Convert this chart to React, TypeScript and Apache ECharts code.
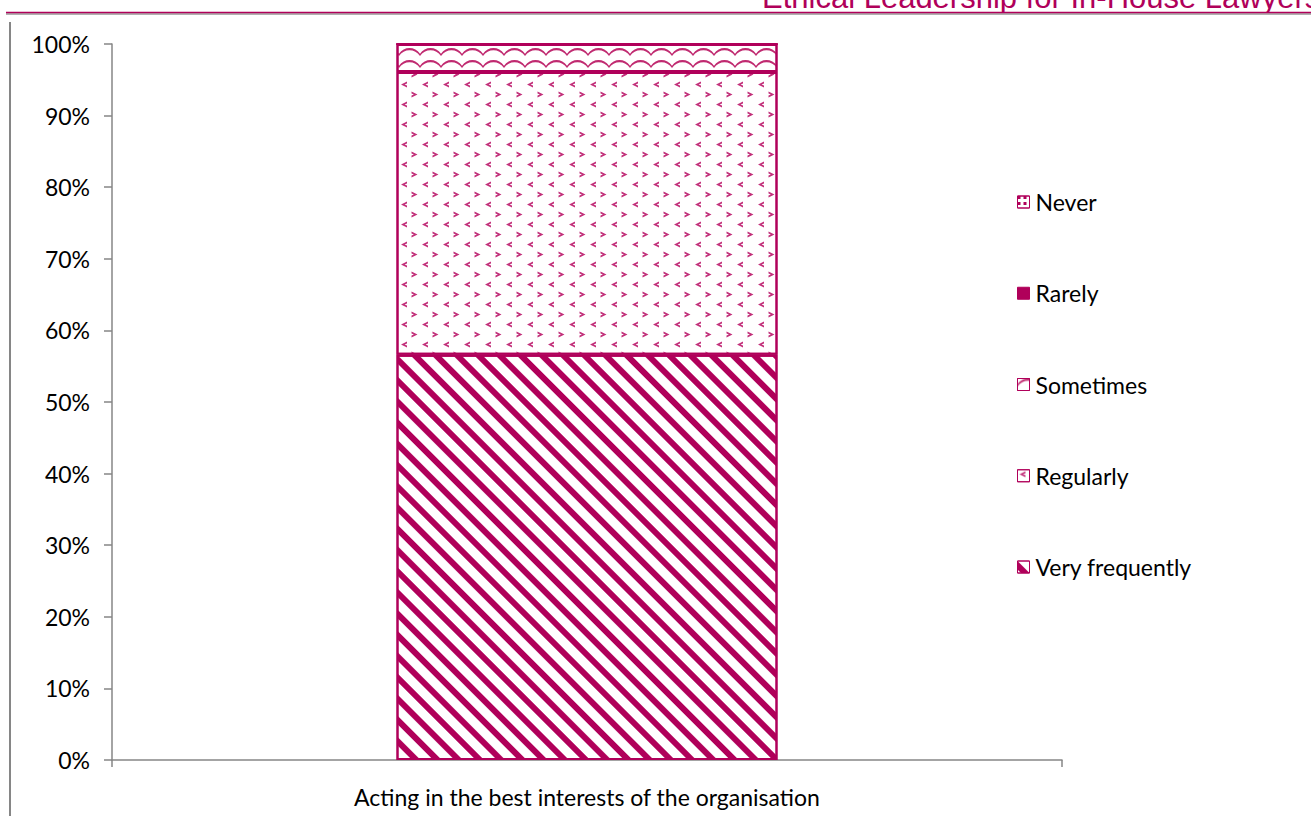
import React, { useEffect, useRef } from "react";
import * as echarts from "echarts";

const categories = ["Acting in the best interests of the organisation"];
const legendOrder = ["Never", "Rarely", "Sometimes", "Regularly", "Very frequently"];
const veryFrequently = [56.6];
const regularly = [39.5];
const sometimes = [3.9];
const rarely = [0];
const never = [0];
const yTicks = [0, 10, 20, 30, 40, 50, 60, 70, 80, 90, 100];
const headerTitle = "Ethical Leadership for In-House Lawyers";

const CRIMSON = "#B0005A";
const AXIS = "#868686";
const FONT = "Lato";
const FS = 23;

const CHEVRONS =
  "path://M0,0 L0.01,0 L0,0.01 Z M21,20 L20.99,20 L21,19.99 Z " +
  "M8,1.5 L2,4.5 L8,7.5 L8,5.4 L5.6,4.5 L8,3.6 Z " +
  "M12.5,11.5 L18.5,14.5 L12.5,17.5 L12.5,15.4 L14.9,14.5 L12.5,13.6 Z";

export default function App() {
  const ref = useRef<HTMLDivElement>(null);
  useEffect(() => {
    if (!ref.current) return;
    const chart = echarts.init(ref.current, null, { renderer: "svg" });
    const mk = (name: string, data: number[], color: string, decal: any) => ({
      name,
      type: "bar",
      stack: "total",
      data,
      barWidth: 381,
      itemStyle: { color, borderColor: CRIMSON, borderWidth: 2, decal },
      emphasis: { disabled: true },
    });
    chart.setOption({
      animation: false,
      backgroundColor: "#ffffff",
      grid: { left: 112, top: 44, width: 950, height: 716, containLabel: false },
      xAxis: {
        type: "category",
        data: categories,
        axisLine: { lineStyle: { color: AXIS, width: 1.5 } },
        axisTick: { show: true, length: 7, lineStyle: { color: AXIS, width: 1.5 } },
        axisLabel: { color: "#000", fontFamily: FONT, fontSize: FS, margin: 25 },
      },
      yAxis: {
        type: "value",
        min: yTicks[0],
        max: yTicks[yTicks.length - 1],
        interval: 10,
        axisLine: { show: true, lineStyle: { color: AXIS, width: 1.5 } },
        axisTick: { show: true, length: 8, lineStyle: { color: AXIS, width: 1.5 } },
        splitLine: { show: false },
        axisLabel: {
          color: "#000",
          fontFamily: FONT,
          fontSize: FS,
          margin: 22,
          formatter: (v: number) => v + "%",
        },
      },
      legend: {
        orient: "vertical",
        left: 1012,
        top: 184,
        itemGap: 65.25,
        itemWidth: 12,
        itemHeight: 12,
        icon: "rect",
        data: legendOrder,
        textStyle: { color: "#000", fontFamily: FONT, fontSize: FS, lineHeight: 26, padding: [0, 0, 0, 1] },
        itemStyle: { borderColor: CRIMSON, borderWidth: 1 },
        selectedMode: false,
      },
      series: [
        mk("Very frequently", veryFrequently, "#ffffff", {
          symbol: "rect",
          symbolSize: 1,
          dashArrayX: [1, 0],
          dashArrayY: [6, 9],
          rotation: Math.PI / 4,
          color: CRIMSON,
          backgroundColor: "#ffffff",
        }),
        mk("Regularly", regularly, "#ffffff", {
          symbol: CHEVRONS,
          symbolSize: 1,
          symbolKeepAspect: false,
          dashArrayX: [21, 0],
          dashArrayY: [20, 0],
          color: "#C2307A",
          backgroundColor: "#ffffff",
        }),
        mk("Sometimes", sometimes, "#ffffff", {
          symbol: "path://M0,6 C5,-2 16,-2 21,6 L21,8.5 C16,0.5 5,0.5 0,8.5 Z",
          symbolSize: 1,
          symbolKeepAspect: false,
          dashArrayX: [21, 0],
          dashArrayY: [8, 4],
          color: "#C02A70",
          backgroundColor: "#ffffff",
        }),
        mk("Rarely", rarely, CRIMSON, "none"),
        mk("Never", never, "#ffffff", {
          symbol: "rect",
          symbolSize: 1,
          dashArrayX: [3, 3],
          dashArrayY: [3, 3],
          color: CRIMSON,
          backgroundColor: "#ffffff",
        }),
      ],
      graphic: [
        {
          type: "text",
          left: 762,
          top: -18,
          style: { text: headerTitle, font: "31px 'Liberation Sans', Arial", fill: CRIMSON },
          silent: true,
        },
        {
          type: "line",
          shape: { x1: 6, y1: 14, x2: 1311, y2: 14 },
          style: { stroke: "#b0b0b0", lineWidth: 2 },
          silent: true,
        },
        {
          type: "line",
          shape: { x1: 6, y1: 12.5, x2: 1311, y2: 12.5 },
          style: { stroke: CRIMSON, lineWidth: 1.5 },
          silent: true,
        },
        {
          type: "line",
          shape: { x1: 10, y1: 22, x2: 10, y2: 816 },
          style: { stroke: AXIS, lineWidth: 2 },
          silent: true,
        },
      ],
    });
    return () => chart.dispose();
  }, []);
  return (
    <div
      ref={ref}
      style={{ position: "absolute", left: 0, top: 0, width: 1311, height: 816 }}
    />
  );
}
